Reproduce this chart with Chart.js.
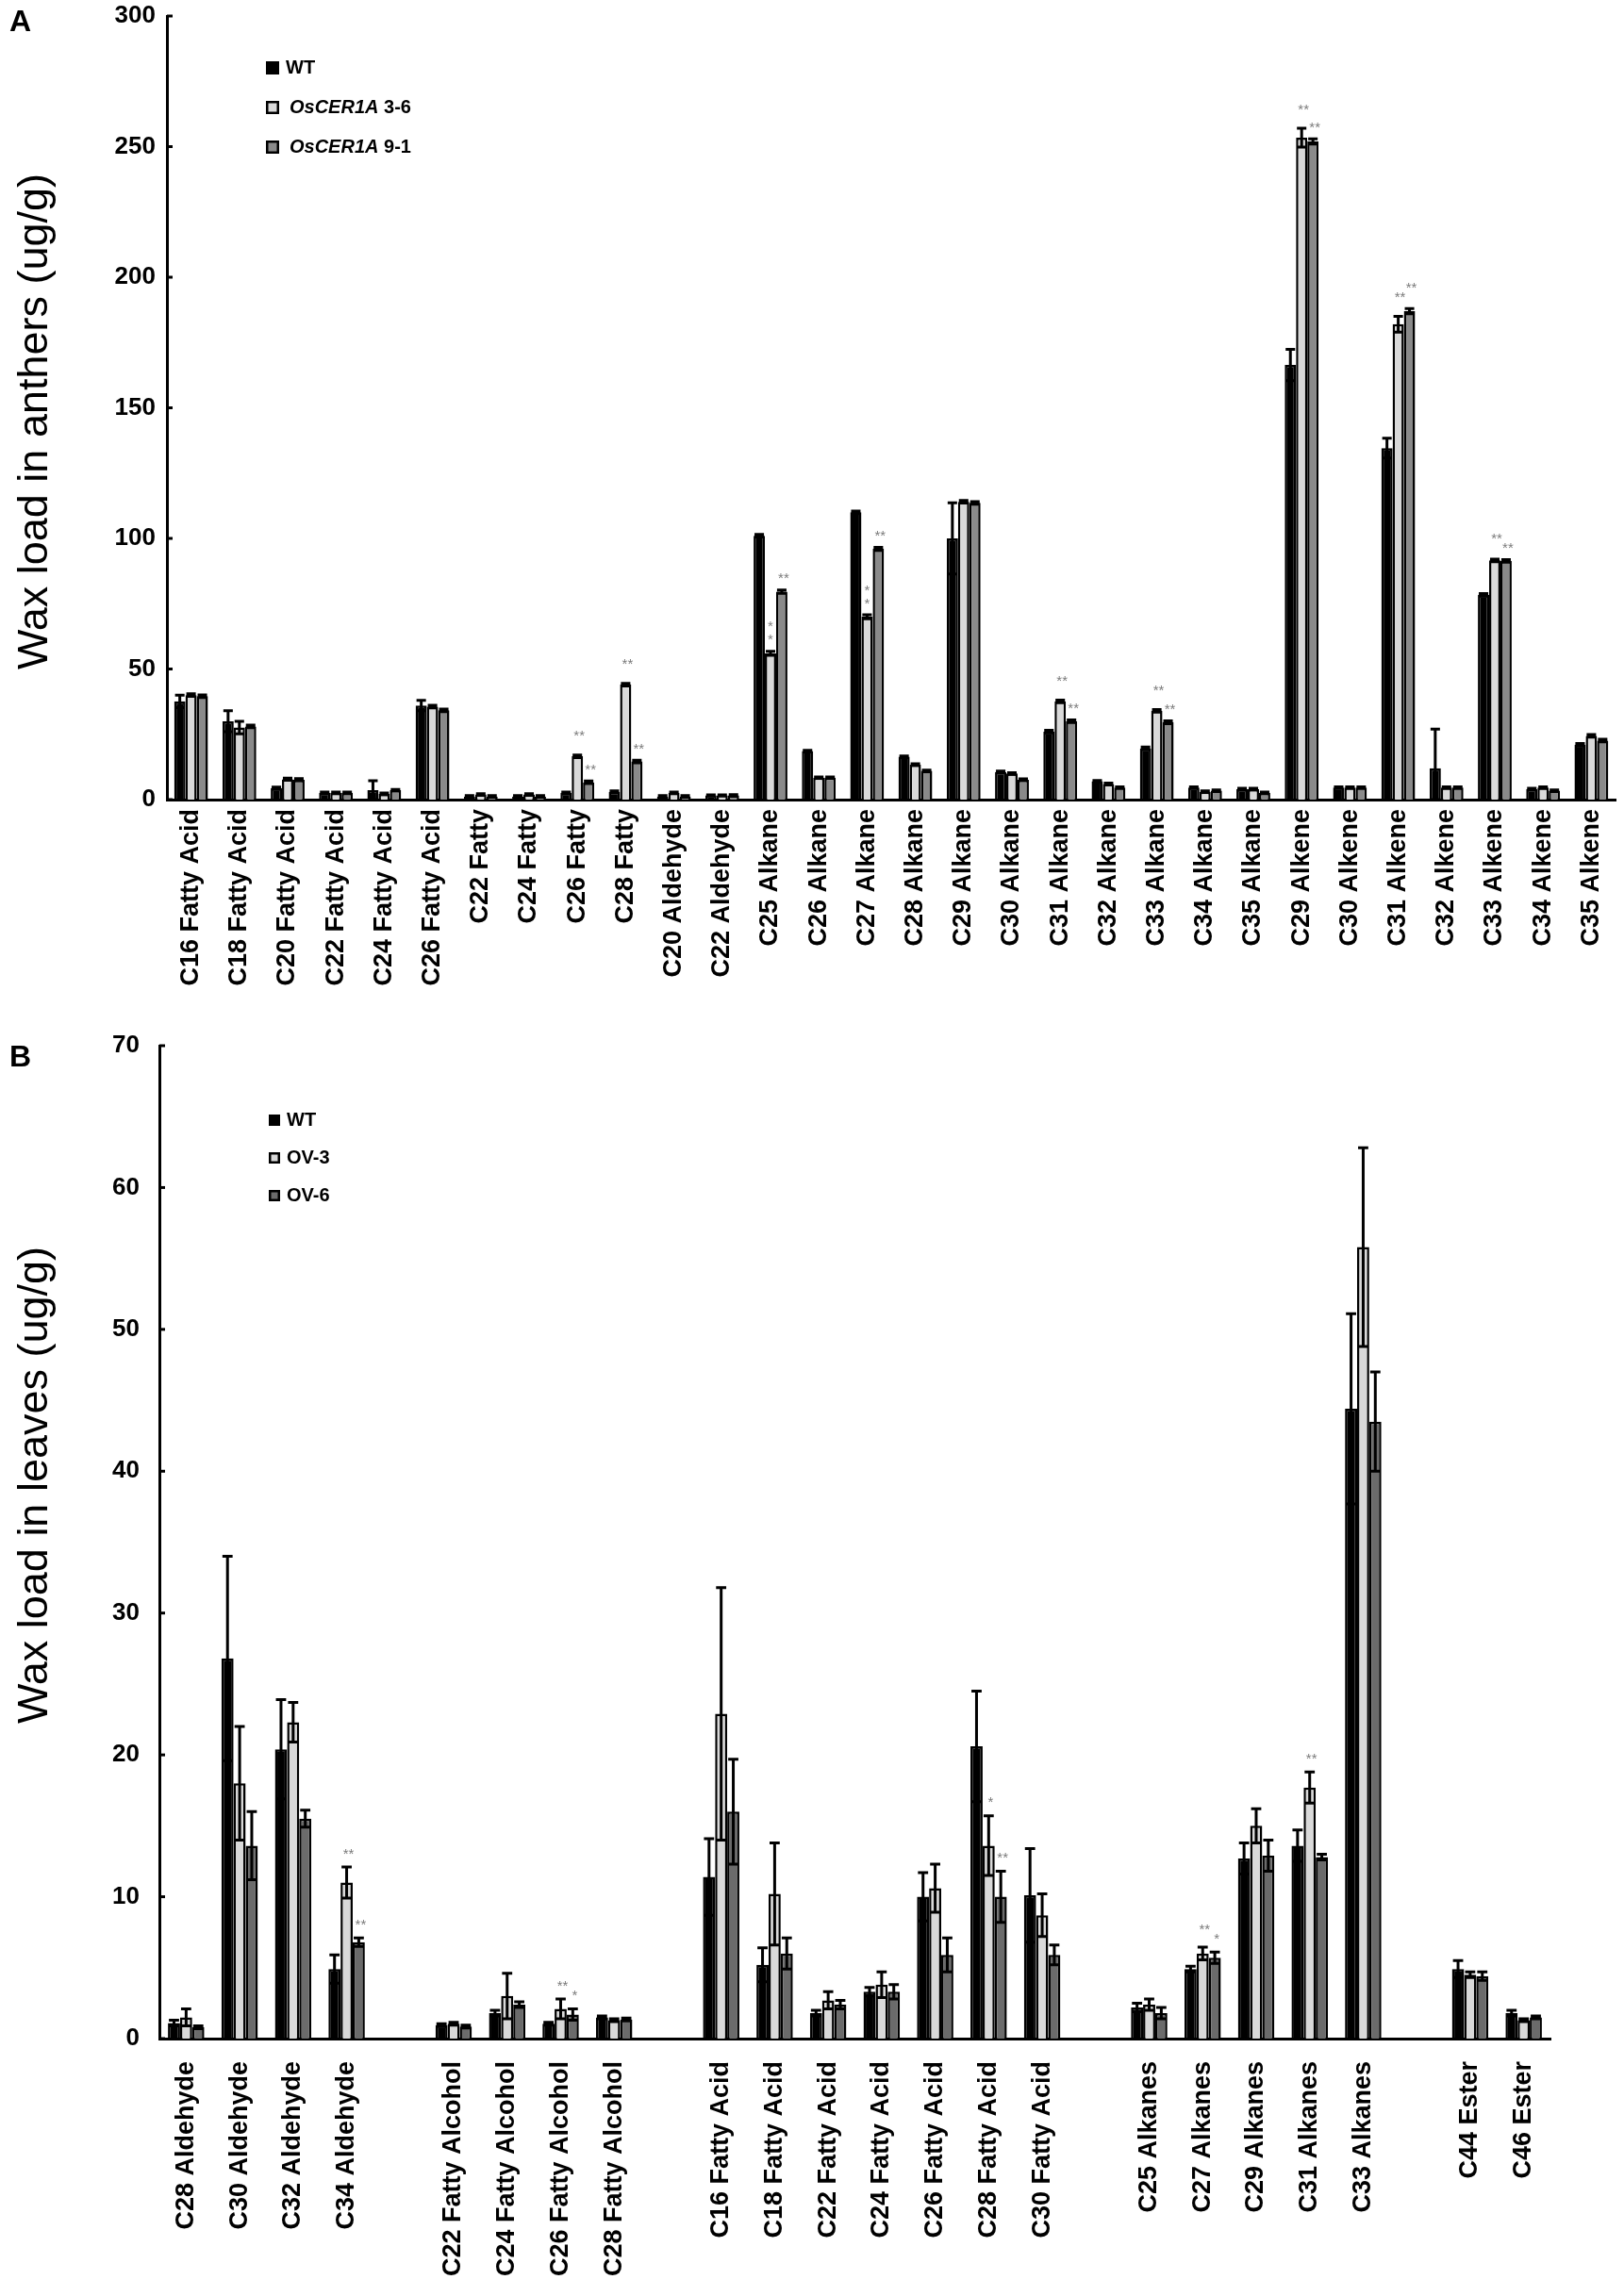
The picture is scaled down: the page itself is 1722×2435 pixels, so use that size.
<!DOCTYPE html>
<html>
<head>
<meta charset="utf-8">
<script src="https://cdn.jsdelivr.net/npm/chart.js@4.4.1/dist/chart.umd.min.js"></script>
<style>
  html, body { margin:0; padding:0; background:#fff; }
  #wrap { position:relative; width:1722px; height:2435px; background:#fff; }
  #cA { position:absolute; left:0; top:0; }
  #cB { position:absolute; left:0; top:1080px; }
</style>
</head>
<body>
<div id="wrap">
  <canvas id="cA" width="1722" height="1090" style="width:1722px;height:1090px"></canvas>
  <canvas id="cB" width="1722" height="1355" style="width:1722px;height:1355px"></canvas>
</div>
<script>
// ---------- Panel A data (anthers) ----------
const catsA = ['C16 Fatty Acid','C18 Fatty Acid','C20 Fatty Acid','C22 Fatty Acid','C24 Fatty Acid','C26 Fatty Acid',
  'C22 Fatty','C24 Fatty','C26 Fatty','C28 Fatty','C20 Aldehyde','C22 Aldehyde',
  'C25 Alkane','C26 Alkane','C27 Alkane','C28 Alkane','C29 Alkane','C30 Alkane','C31 Alkane','C32 Alkane','C33 Alkane','C34 Alkane','C35 Alkane',
  'C29 Alkene','C30 Alkene','C31 Alkene','C32 Alkene','C33 Alkene','C34 Alkene','C35 Alkene'];
const wtA    = [37.6, 30, 4.4, 2.6, 3.6, 36, 1.2, 1.2, 2.6, 3, 1.2, 1.6, 101, 18.6, 110, 16.4, 100, 10.6, 26, 7, 19.6, 4.6, 4, 166.4, 4.6, 134.6, 12, 78.4, 4, 21];
const wtAErr = [2.4, 4, 0.4, 0.3, 3.6, 2, 0.3, 0.3, 0.3, 0.3, 0.3, 0.2, 0.5, 0.3, 0.5, 0.3, 13.6, 0.3, 0.5, 0.3, 0.5, 0.3, 0.3, 6, 0.3, 3.8, 15, 0.5, 0.3, 0.5];
const l36A    = [40, 27.6, 7.8, 2.6, 2.2, 35.6, 2, 2, 16.6, 44, 2.6, 1.6, 56, 8.4, 70, 13.4, 114, 10, 37.6, 6, 34, 3, 4, 253.4, 4.6, 182, 4.6, 91.6, 4.6, 24.4];
const l36AErr = [0.5, 2.4, 0.4, 0.3, 0.3, 0.5, 0.3, 0.3, 0.5, 0.5, 0.3, 0.2, 0.8, 0.3, 0.8, 0.3, 0.5, 0.3, 0.5, 0.3, 0.5, 0.3, 0.3, 3.6, 0.3, 3, 0.3, 0.5, 0.3, 0.5];
const l91A    = [39.6, 28, 7.6, 2.6, 3.6, 34.2, 1.2, 1.2, 6.6, 14.6, 1.2, 1.6, 79.6, 8.4, 96, 11, 113.6, 7.6, 30, 4.6, 29.6, 3.4, 2.6, 252, 4.6, 187, 4.6, 91.4, 3.4, 22.6];
const l91AErr = [0.5, 0.5, 0.4, 0.3, 0.3, 0.5, 0.3, 0.3, 0.5, 0.5, 0.3, 0.3, 0.6, 0.3, 0.6, 0.3, 0.5, 0.3, 0.5, 0.3, 0.5, 0.3, 0.3, 1, 0.3, 1, 0.3, 0.5, 0.3, 0.5];
// significance marks ('v' = two stars stacked vertically)
const l36AStars = [null,null,null,null,null,null,null,null,'**','**',null,null,'v',null,'v',null,null,null,'**',null,'**',null,null,'**',null,'**',null,'**',null,null];
const l91AStars = [null,null,null,null,null,null,null,null,'**','**',null,null,'**',null,'**',null,null,null,'**',null,'**',null,null,'**',null,'**',null,'**',null,null];
const ticksA = [0, 50, 100, 150, 200, 250, 300];

// ---------- Panel B data (leaves) ----------
const catsB = ['C28 Aldehyde','C30 Aldehyde','C32 Aldehyde','C34 Aldehyde','',
  'C22 Fatty Alcohol','C24 Fatty Alcohol','C26 Fatty Alcohol','C28 Fatty Alcohol','',
  'C16 Fatty Acid','C18 Fatty Acid','C22 Fatty Acid','C24 Fatty Acid','C26 Fatty Acid','C28 Fatty Acid','C30 Fatty Acid','',
  'C25 Alkanes','C27 Alkanes','C29 Alkanes','C31 Alkanes','C33 Alkanes','',
  'C44 Ester','C46 Ester'];
const wtB     = [1.1, 26.8, 20.4, 4.9, null, 0.95, 1.8, 1.05, 1.5, null, 11.4, 5.2, 1.8, 3.3, 10.0, 20.6, 10.1, null, 2.2, 4.9, 12.7, 13.6, 44.4, null, 4.9, 1.8];
const wtBErr  = [0.2, 7.2, 3.5, 1.0, null, 0.1, 0.2, 0.1, 0.1, null, 2.7, 1.2, 0.2, 0.3, 1.7, 3.9, 3.3, null, 0.3, 0.2, 1.1, 1.1, 6.7, null, 0.6, 0.2];
const ov3B    = [1.5, 18.0, 22.3, 11.0, null, 1.05, 3.0, 2.1, 1.3, null, 22.9, 10.2, 2.7, 3.8, 10.6, 13.6, 8.7, null, 2.4, 6.0, 15.0, 17.7, 55.8, null, 4.5, 1.3];
const ov3BErr = [0.6, 4.0, 1.4, 1.1, null, 0.1, 1.6, 0.7, 0.1, null, 8.9, 3.6, 0.6, 0.9, 1.7, 2.1, 1.5, null, 0.4, 0.45, 1.2, 1.1, 7.0, null, 0.2, 0.1];
const ov6B    = [0.8, 13.6, 15.5, 6.8, null, 0.85, 2.4, 1.7, 1.35, null, 16.0, 6.0, 2.4, 3.3, 5.9, 10.0, 5.9, null, 1.8, 5.7, 12.9, 12.8, 43.5, null, 4.4, 1.5];
const ov6BErr = [0.1, 2.4, 0.6, 0.3, null, 0.1, 0.2, 0.4, 0.1, null, 3.7, 1.1, 0.3, 0.5, 1.2, 1.8, 0.7, null, 0.4, 0.4, 1.1, 0.2, 3.5, null, 0.3, 0.1];
const ov3BStars = [null,null,null,'**',null,null,null,'**',null,null,null,null,null,null,null,'*',null,null,null,'**',null,'**',null,null,null,null];
const ov6BStars = [null,null,null,'**',null,null,null,'*',null,null,null,null,null,null,null,'**',null,null,null,'*',null,null,null,null,null,null];
const ticksB = [0, 10, 20, 30, 40, 50, 60, 70];

// ---------- drawing helpers ----------
const FONT = '"Liberation Sans", Arial, Helvetica, sans-serif';

const overlay = {
  id: 'overlay',
  afterDatasetsDraw(chart) {
    const ctx = chart.ctx;
    const ys = chart.scales.y;
    const o = chart.options.plugins.overlay;
    ctx.save();
    // error bars
    chart.data.datasets.forEach((ds, i) => {
      const meta = chart.getDatasetMeta(i);
      meta.data.forEach((bar, j) => {
        const v = ds.data[j], e = ds.err ? ds.err[j] : null;
        if (v == null || e == null) return;
        const x = bar.x;
        const yT = ys.getPixelForValue(v + e);
        const yB = ys.getPixelForValue(Math.max(v - e, 0));
        const cw = bar.width * 0.42;
        ctx.strokeStyle = '#000';
        ctx.lineWidth = 3;
        ctx.beginPath();
        ctx.moveTo(x, yT); ctx.lineTo(x, yB);
        ctx.moveTo(x - cw, yT); ctx.lineTo(x + cw, yT);
        ctx.moveTo(x - cw, yB); ctx.lineTo(x + cw, yB);
        ctx.stroke();
      });
    });
    // significance stars (series 1 and 2), kept apart when they would collide
    ctx.fillStyle = '#7a7a7a';
    ctx.font = '15px ' + FONT;
    ctx.textAlign = 'center';
    ctx.textBaseline = 'bottom';
    const dsets = chart.data.datasets;
    chart.data.labels.forEach((lab, j) => {
      const pos = {};
      [1, 2].forEach(i => {
        const ds = dsets[i];
        const s = ds.stars ? ds.stars[j] : null;
        if (!s || ds.data[j] == null) return;
        const top = ds.data[j] + (ds.err ? ds.err[j] : 0);
        pos[i] = { s, top, y: ys.getPixelForValue(top) - o.starLift[i], bar: chart.getDatasetMeta(i).data[j] };
      });
      if (pos[1] && pos[2] && pos[1].s !== 'v' && Math.abs(pos[1].y - pos[2].y) < 10) {
        if (pos[2].top > pos[1].top) pos[2].y = pos[1].y - 10;
        else pos[1].y = pos[2].y - 10;
      }
      Object.keys(pos).forEach(k => {
        const p = pos[k];
        if (p.s === 'v') {
          const yT = ys.getPixelForValue(p.top);
          ctx.fillText('*', p.bar.x, yT - 4);
          ctx.fillText('*', p.bar.x, yT - 18);
        } else {
          ctx.fillText(p.s, p.bar.x + 2, p.y);
        }
      });
    });
    // inner tick marks on the y axis
    ctx.strokeStyle = '#000';
    ctx.lineWidth = 3;
    ys.ticks.forEach(t => {
      const y = ys.getPixelForValue(t.value);
      ctx.beginPath();
      ctx.moveTo(ys.right, y); ctx.lineTo(ys.right + 6, y);
      ctx.stroke();
    });
    // panel letter, y title, legend
    ctx.fillStyle = '#000';
    ctx.textAlign = 'left';
    ctx.textBaseline = 'alphabetic';
    ctx.font = 'bold 32px ' + FONT;
    ctx.fillText(o.letter, o.letterX, o.letterY);
    ctx.save();
    ctx.translate(o.titleX, o.titleY);
    ctx.rotate(-Math.PI / 2);
    ctx.textAlign = 'center';
    ctx.textBaseline = 'middle';
    ctx.font = '45px ' + FONT;
    ctx.fillText(o.title, 0, 0);
    ctx.restore();
    o.legend.forEach((it, k) => {
      const cy = o.legendY + k * o.legendStep;
      const bx = o.legendX, sz = o.box;
      ctx.fillStyle = it.fill;
      ctx.fillRect(bx, cy - sz / 2, sz, sz);
      ctx.strokeStyle = '#000';
      ctx.lineWidth = 2.5;
      ctx.strokeRect(bx + 1.25, cy - sz / 2 + 1.25, sz - 2.5, sz - 2.5);
      ctx.fillStyle = '#000';
      ctx.textBaseline = 'middle';
      let tx = bx + sz + 7;
      if (it.italic) {
        ctx.font = 'italic bold 20px ' + FONT;
        ctx.fillText(it.italic, tx + 4, cy);
        tx += 4 + ctx.measureText(it.italic).width;
      }
      ctx.font = 'bold 20px ' + FONT;
      ctx.fillText(it.text, tx, cy);
    });
    ctx.restore();
  }
};

function makeDatasets(vals, errs, stars, names, fills) {
  return vals.map((v, i) => ({
    label: names[i], data: v, err: errs[i], stars: stars[i],
    backgroundColor: fills[i], borderColor: '#000', borderWidth: 2.5,
    borderSkipped: 'bottom'
  }));
}

function axisOpts(cfg) {
  return {
    x: {
      grid: { display: false, drawTicks: false },
      border: { color: '#000', width: 3 },
      ticks: { color: '#000', autoSkip: false, maxRotation: 90, minRotation: 90, padding: cfg.xPad,
               font: { family: FONT, size: 27, weight: 'bold' } },
      afterFit(s) { s.height = cfg.xH; s.paddingLeft = 0; s.paddingRight = 0; }
    },
    y: {
      min: cfg.min, max: cfg.max,
      afterBuildTicks(s) { s.ticks = cfg.ticks.map(v => ({ value: v })); },
      grid: { display: false, drawTicks: false },
      border: { color: '#000', width: 3 },
      ticks: { color: '#000', padding: cfg.yPad, font: { family: FONT, size: 26, weight: 'bold' } },
      afterFit(s) { s.width = cfg.yW; s.paddingTop = 0; s.paddingBottom = 0; }
    }
  };
}

// ---------- Panel A ----------
new Chart(document.getElementById('cA'), {
  type: 'bar',
  data: {
    labels: catsA,
    datasets: makeDatasets([wtA, l36A, l91A], [wtAErr, l36AErr, l91AErr], [null, l36AStars, l91AStars],
      ['WT', 'OsCER1A 3-6', 'OsCER1A 9-1'], ['#000000', '#d9d9d9', '#8a8a8a'])
  },
  options: {
    responsive: false, animation: false, devicePixelRatio: 1,
    datasets: { bar: { barPercentage: 1.0, categoryPercentage: 0.7 } },
    layout: { padding: { top: 17, right: 9, left: 0, bottom: 0 } },
    plugins: {
      legend: { display: false }, tooltip: { enabled: false },
      overlay: {
        letter: 'A', letterX: 10, letterY: 33,
        title: 'Wax load in anthers (ug/g)', titleX: 38, titleY: 447,
        legendX: 282, legendY: 72, legendStep: 42, box: 14,
        starLift: [0, 12, 4],
        legend: [
          { fill: '#000000', text: 'WT' },
          { fill: '#d9d9d9', italic: 'OsCER1A', text: ' 3-6' },
          { fill: '#8a8a8a', italic: 'OsCER1A', text: ' 9-1' }
        ]
      }
    },
    scales: axisOpts({ xPad: 10, xH: 1090 - 848, min: 0, max: 300, ticks: ticksA, yPad: 12, yW: 177 })
  },
  plugins: [overlay]
});

// ---------- Panel B ----------
new Chart(document.getElementById('cB'), {
  type: 'bar',
  data: {
    labels: catsB,
    datasets: makeDatasets([wtB, ov3B, ov6B], [wtBErr, ov3BErr, ov6BErr], [null, ov3BStars, ov6BStars],
      ['WT', 'OV-3', 'OV-6'], ['#000000', '#d9d9d9', '#6b6b6b'])
  },
  options: {
    responsive: false, animation: false, devicePixelRatio: 1,
    datasets: { bar: { barPercentage: 1.0, categoryPercentage: 0.68 } },
    layout: { padding: { top: 29, right: 78, left: 0, bottom: 0 } },
    plugins: {
      legend: { display: false }, tooltip: { enabled: false },
      overlay: {
        letter: 'B', letterX: 10, letterY: 51,
        title: 'Wax load in leaves (ug/g)', titleX: 38, titleY: 495,
        legendX: 285, legendY: 108, legendStep: 40, box: 12,
        starLift: [0, 6, 6],
        legend: [
          { fill: '#000000', text: 'WT' },
          { fill: '#d9d9d9', text: 'OV-3' },
          { fill: '#6b6b6b', text: 'OV-6' }
        ]
      }
    },
    scales: axisOpts({ xPad: 24, xH: 1355 - 1082, min: 0, max: 70, ticks: ticksB, yPad: 21, yW: 169 })
  },
  plugins: [overlay]
});
</script>
</body>
</html>
